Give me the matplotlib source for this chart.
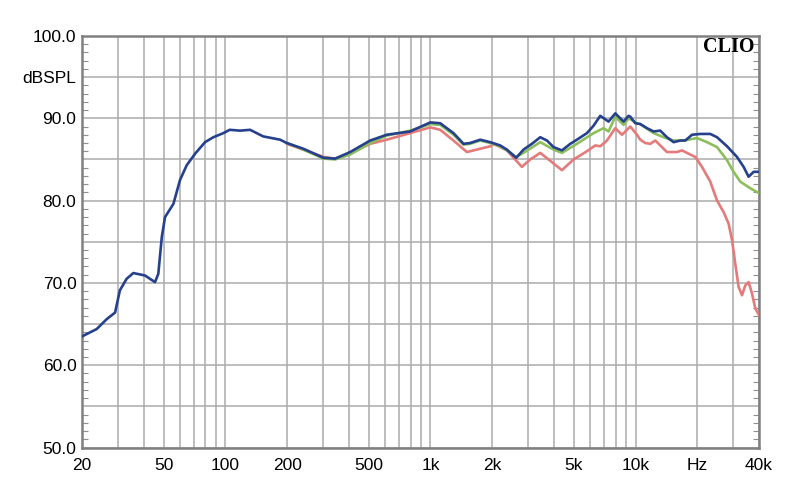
import matplotlib
matplotlib.use('Agg')
import matplotlib.pyplot as plt
from matplotlib.ticker import FixedLocator, MultipleLocator

plt.rcParams['font.family'] = ['Liberation Sans', 'DejaVu Sans']

# blue trace (full range)
blue_f = [20, 23.6, 26.4, 29.0, 30.6, 33.0, 35.6, 40.6, 42.9, 45.4, 47.1, 49.0,
          50.8, 55.8, 60.1, 64.8, 71.2, 79.6, 87.4, 97.8, 105, 118, 132, 153,
          185, 199, 240, 301, 343, 406, 508, 612, 796, 998, 1116, 1295, 1449,
          1562, 1748, 1956, 2188, 2358, 2618, 2843, 3124, 3430, 3698, 3982,
          4376, 4806, 5178, 5794, 6240, 6728, 7384, 7962, 8740, 9246, 9424,
          9968, 10544, 11366, 12244, 13196, 14228, 15328, 16522, 17480, 18842,
          20680, 23140, 24960, 27920, 31240, 33640, 35580, 37640, 40000]
blue_db = [63.5, 64.4, 65.6, 66.4, 69.1, 70.5, 71.2, 70.9, 70.5, 70.1, 71.1, 75.6,
           78.0, 79.6, 82.5, 84.3, 85.7, 87.1, 87.7, 88.2, 88.6, 88.5, 88.6, 87.8,
           87.4, 87.0, 86.3, 85.2, 85.1, 85.9, 87.3, 88.0, 88.4, 89.5, 89.4, 88.2, 86.9,
           87.0, 87.4, 87.1, 86.7, 86.2, 85.2, 86.2, 86.9, 87.7, 87.3, 86.5,
           86.1, 86.9, 87.4, 88.2, 89.1, 90.3, 89.6, 90.6, 89.6, 90.3, 90.2,
           89.4, 89.3, 88.8, 88.4, 88.5, 87.7, 87.1, 87.3, 87.3, 88.0,
           88.1, 88.1, 87.7, 86.6, 85.3, 84.1, 82.9, 83.5, 83.5]

# green trace
green_f = [200, 240, 301, 343, 406, 508, 612, 796, 998, 1116, 1295, 1449, 1562,
           1748, 1956, 2188, 2358, 2618, 2843, 3430, 3982, 4376, 5178, 6240,
           6982, 7384, 7962, 8740, 9246, 10160, 10544, 12244, 13694, 15328,
           17150, 19932, 22300, 24960, 27920, 30060, 32420, 36280, 40000]
green_db = [87.0, 86.2, 85.1, 85.0, 85.6, 87.0, 87.9, 88.5, 89.3, 89.2, 88.0, 86.8, 86.9,
            87.3, 87.0, 86.6, 86.1, 85.3, 85.8, 87.1, 86.2, 85.8, 86.9, 88.2,
            88.8, 88.4, 90.2, 89.2, 90.0, 89.4, 89.3, 88.2, 87.7, 87.3,
            87.3, 87.6, 87.1, 86.5, 84.9, 83.5, 82.3, 81.5, 80.9]

# red trace
red_f = [200, 301, 343, 406, 508, 612, 796, 998, 1116, 1295, 1506, 1748, 1956,
         2030, 2358, 2792, 3064, 3430, 4376, 4986, 5794, 6361, 6728, 7252, 7962,
         8586, 9424, 10160, 10544, 11150, 11794, 12478, 13196, 14228, 15920,
         16840, 18140, 19554, 21080, 23140, 24960, 26880, 28420, 29540, 30640,
         31800, 33040, 34280, 35580, 36980, 38360, 40000]
red_db = [86.9, 85.3, 85.1, 85.7, 86.9, 87.4, 88.2, 88.9, 88.6, 87.3, 85.9, 86.3, 86.6,
          86.9, 86.1, 84.1, 85.0, 85.8, 83.7, 85.0, 86.0, 86.7, 86.6, 87.3, 88.8,
          88.0, 89.0, 88.0, 87.4, 87.0, 86.9, 87.3, 86.7, 85.9, 85.9,
          86.1, 85.7, 85.3, 84.1, 82.3, 80.0, 78.6, 77.2, 75.2, 72.3,
          69.5, 68.5, 69.7, 70.1, 68.7, 66.9, 66.1]

grid_f = [20, 30, 40, 50, 60, 70, 80, 90, 100, 200, 300, 400, 500, 600, 700, 800,
          900, 1000, 2000, 3000, 4000, 5000, 6000, 7000, 8000, 9000, 10000,
          20000, 30000, 40000]
x_labels = {20: '20', 50: '50', 100: '100', 200: '200', 500: '500', 1000: '1k',
            2000: '2k', 5000: '5k', 10000: '10k', 20000: 'Hz', 40000: '40k'}
y_ticks = [50, 55, 60, 65, 70, 75, 80, 85, 90, 95, 100]
y_labels = ['50.0', '', '60.0', '', '70.0', '', '80.0', '', '90.0', 'dBSPL', '100.0']

fig = plt.figure(figsize=(8, 5.04), dpi=100)
ax = fig.add_axes([0.1025, 0.112, 0.8463, 0.8166])

ax.plot(red_f, red_db, color='#e47a7a', lw=1.9, zorder=3)
ax.plot(green_f, green_db, color='#8cbf5c', lw=1.9, zorder=4)
ax.plot(blue_f, blue_db, color='#25408c', lw=1.9, zorder=5)

ax.set_xscale('log')
ax.set_xlim(20, 40000)
ax.set_ylim(50, 100)

ax.xaxis.set_major_locator(FixedLocator(grid_f))
ax.xaxis.set_minor_locator(FixedLocator([]))
ax.set_xticklabels([x_labels.get(f, '') for f in grid_f])
ax.set_yticks(y_ticks)
ax.set_yticklabels(y_labels)
ax.yaxis.set_minor_locator(MultipleLocator(1))

ax.tick_params(axis='x', which='major', length=0, pad=7.5, labelsize=12.5, colors='#000000')
ax.tick_params(axis='y', which='major', length=0, pad=4, labelsize=12.5)
ax.tick_params(axis='y', which='minor', direction='in', length=4, width=0.8,
               color='#909090', left=True, right=True)

ax.grid(True, which='major', color='#ababab', lw=1.1, zorder=1)
for s in ax.spines.values():
    s.set_color('#808080')
    s.set_linewidth(1.8)

ax.text(0.994, 0.974, 'CLIO', transform=ax.transAxes, ha='right', va='center',
        fontsize=14.5, fontweight='bold', family=['Liberation Serif', 'DejaVu Serif'],
        zorder=6)

fig.savefig('out.png', dpi=100)
